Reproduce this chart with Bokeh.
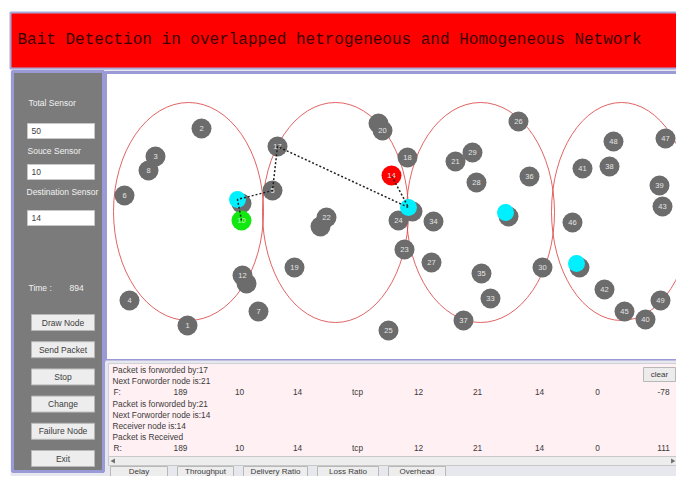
from bokeh.plotting import figure
from bokeh.models import Range1d, ColumnDataSource
from bokeh.core.properties import value
from bokeh.embed import file_html
from bokeh.resources import INLINE

# ---------------- data ----------------
title_text = "Bait Detection in overlapped hetrogeneous and Homogeneous Network"
field_labels = ["Total Sensor", "Souce Sensor", "Destination Sensor"]
field_values = ["50", "10", "14"]
time_label = "Time :"
time_value = "894"
side_buttons = ["Draw Node", "Send Packet", "Stop", "Change", "Failure Node", "Exit"]
bottom_buttons = ["Delay", "Throughput", "Delivery Ratio", "Loss Ratio", "Overhead"]

# visible sensor nodes (label, x, y) in network-panel coordinates
node_labels = ["1", "2", "3", "4", "5", "6", "7", "8", "12", "17", "18", "19", "20", "21",
               "22", "23", "24", "25", "26", "27", "28", "29", "30", "33", "34", "35", "36",
               "37", "38", "39", "40", "41", "42", "43", "45", "46", "47", "48", "49"]
node_x = [187, 201, 155, 129, 272, 124, 258, 148, 242, 277, 407, 294, 382, 455,
          326, 404, 398, 388, 518, 431, 476, 472, 542, 490, 433, 481, 529,
          463, 609, 659, 645, 582, 604, 662, 624, 572, 665, 613, 660]
node_y = [325, 128, 156, 300, 190, 195, 311, 170, 275, 146, 157, 267, 130, 161,
          217, 249, 220, 330, 121, 262, 182, 152, 267, 298, 221, 273, 176,
          320, 166, 185, 319, 168, 289, 206, 311, 222, 138, 141, 300]
# nodes hidden behind others
hidden_x = [378, 320, 246, 241, 412, 508, 579]
hidden_y = [123, 226, 283, 203, 211, 216, 267]
# bait (cyan) nodes
bait_x = [237, 408, 505, 576]
bait_y = [199, 207, 212, 263]
# source (green) and destination (red)
source_label, source_x, source_y = "10", 241, 220
dest_label, dest_x, dest_y = "14", 391, 175
# packet route
route_x = [241, 237, 272, 277, 408, 391]
route_y = [220, 199, 190, 146, 207, 175]
# network clusters (ellipses)
cluster_x = [188, 335, 480, 621]
cluster_y = [211, 212, 212, 211]
cluster_w = [150, 146, 148, 140]
cluster_h = [218, 220, 220, 218]

# log
log_lines = ["Packet is forworded by:17", "Next Forworder node is:21", None,
             "Packet is forworded by:21", "Next Forworder node is:14",
             "Receiver node is:14", "Packet is Received", None]
forward_row = ["F:", "189", "10", "14", "tcp", "12", "21", "14", "0", "-78"]
receive_row = ["R:", "189", "10", "14", "tcp", "12", "21", "14", "0", "111"]

# ---------------- figure ----------------
p = figure(width=676, height=476, x_range=Range1d(0, 676), y_range=Range1d(476, 0),
           output_backend="svg", toolbar_location=None, min_border=0,
           x_axis_type=None, y_axis_type=None)
p.grid.visible = False
p.outline_line_color = None
p.background_fill_color = "white"
p.border_fill_color = "white"

SANS = value("Liberation Sans")
LAV = "#9a9ad6"

# window frame
p.quad(left=[10], right=[700], top=[68], bottom=[500], fill_color="#e7e7ee", line_color=None)
# banner
p.quad(left=[10], right=[700], top=[12], bottom=[68], fill_color="#ff0000",
       line_color="#a8a8d8", line_width=2)
p.text(x=[17], y=[39], text=[title_text], text_font=value("Liberation Mono"),
       text_font_size=value("16px"), text_color="#3a0000", text_baseline="middle",
       text_align="left")

# left control panel
p.quad(left=[12], right=[103], top=[71], bottom=[471], fill_color="#7b7b7b",
       line_color=LAV, line_width=3)
lab_y = [102, 150, 191]
box_top = [123, 164, 210]
p.text(x=[28, 27, 26], y=lab_y, text=field_labels, text_font=SANS,
       text_font_size=value("8.5px"), text_color="#f2f2f2", text_baseline="middle")
p.quad(left=[27] * 3, right=[94] * 3, top=box_top, bottom=[t + 15 for t in box_top],
       fill_color="white", line_color="#c8c8c8")
p.text(x=[31] * 3, y=[t + 7.5 for t in box_top], text=field_values, text_font=SANS,
       text_font_size=value("8.5px"), text_color="#404040", text_baseline="middle")
p.text(x=[28, 69], y=[287, 287], text=[time_label, time_value], text_font=SANS,
       text_font_size=value("8.5px"), text_color="#f2f2f2", text_baseline="middle")
btn_y = [322 + 27.2 * i for i in range(len(side_buttons))]
p.quad(left=[31] * len(btn_y), right=[94] * len(btn_y), top=[y - 8 for y in btn_y],
       bottom=[y + 8 for y in btn_y], fill_color="#ededed", line_color="#b8b8b8")
p.text(x=[62.5] * len(btn_y), y=btn_y, text=side_buttons, text_font=SANS,
       text_font_size=value("8.5px"), text_color="#3c3c3c", text_baseline="middle",
       text_align="center")

# network panel
p.quad(left=[105], right=[700], top=[72], bottom=[360], fill_color="white",
       line_color=LAV, line_width=3)
p.ellipse(x=cluster_x, y=cluster_y, width=cluster_w, height=cluster_h,
          fill_color=None, line_color="#dc4848", line_width=1, line_alpha=0.85)

NODE = "#6c6c6c"
p.circle(x=hidden_x, y=hidden_y, radius=10, fill_color=NODE, line_color=None)
nsrc = ColumnDataSource(dict(x=node_x, y=node_y, t=node_labels))
p.circle(x="x", y="y", radius=10, source=nsrc, fill_color=NODE, line_color=None)
p.text(x="x", y="y", text="t", source=nsrc, text_font=SANS, text_font_size=value("7.5px"),
       text_color="#e6e6e6", text_align="center", text_baseline="middle")
p.circle(x=bait_x, y=bait_y, radius=8.5, fill_color="#00f0ff", line_color=None)
p.circle(x=[dest_x], y=[dest_y], radius=10, fill_color="#ff0000", line_color=None)
p.circle(x=[source_x], y=[source_y], radius=10, fill_color="#10e810", line_color=None)
p.text(x=[dest_x, source_x], y=[dest_y, source_y], text=[dest_label, source_label],
       text_font=SANS, text_font_size=value("7.5px"), text_color=["#ffe0e0", "#c8ffc8"],
       text_align="center", text_baseline="middle")
p.line(x=route_x, y=route_y, line_color="#202020", line_width=1.5, line_dash="2 2")

# log area
p.quad(left=[105], right=[700], top=[360], bottom=[472], fill_color="#e7e7ee", line_color=None)
p.quad(left=[108], right=[682], top=[363], bottom=[456], fill_color="#fff0f3",
       line_color="#d0d0d8")
line_y = [369.5 + 11.2 * i for i in range(len(log_lines))]
txt_y = [y for y, t in zip(line_y, log_lines) if t is not None]
txt_t = [t for t in log_lines if t is not None]
p.text(x=[112] * len(txt_t), y=txt_y, text=txt_t, text_font=SANS,
       text_font_size=value("8.3px"), text_color="#3a3a3a", text_baseline="middle")
col_x = [113, 180, 239, 297, 357, 418, 477, 539, 597, 663]
for row, yy in ((forward_row, line_y[2]), (receive_row, line_y[7])):
    p.text(x=col_x[:1], y=[yy], text=row[:1], text_font=SANS, text_font_size=value("8.3px"),
           text_color="#3a3a3a", text_baseline="middle", text_align="left")
    p.text(x=col_x[1:], y=[yy] * (len(row) - 1), text=row[1:], text_font=SANS,
           text_font_size=value("8.3px"), text_color="#3a3a3a", text_baseline="middle",
           text_align="center")
# clear button
p.quad(left=[643], right=[675], top=[367], bottom=[381], fill_color="#ececec",
       line_color="#b8b8b8")
p.text(x=[659], y=[374], text=["clear"], text_font=SANS, text_font_size=value("8px"),
       text_color="#3a3a3a", text_align="center", text_baseline="middle")
# scrollbars
p.quad(left=[682], right=[692], top=[363], bottom=[456], fill_color="#ededed",
       line_color="#c8c8c8")
p.quad(left=[108], right=[682], top=[456], bottom=[465], fill_color="#ededed",
       line_color="#c8c8c8")
p.scatter(x=[113], y=[460.5], marker="triangle", size=5, angle=1.5708,
          fill_color="#707070", line_color=None)
p.scatter(x=[672], y=[460.5], marker="triangle", size=5, angle=-1.5708,
          fill_color="#707070", line_color=None)

# bottom buttons (squeezed into the visible area)
bb_left = [110, 177, 243, 317, 388]
bb_right = [167, 233, 307, 378, 445]
p.quad(left=bb_left, right=bb_right, top=[466] * 5, bottom=[484] * 5,
       fill_color="#ededed", line_color="#b8b8b8")
p.text(x=[(a + b) / 2 for a, b in zip(bb_left, bb_right)], y=[471] * 5, text=bottom_buttons,
       text_font=SANS, text_font_size=value("8px"), text_color="#3c3c3c",
       text_align="center", text_baseline="middle")

open("out.html", "w").write(file_html(p, INLINE))
